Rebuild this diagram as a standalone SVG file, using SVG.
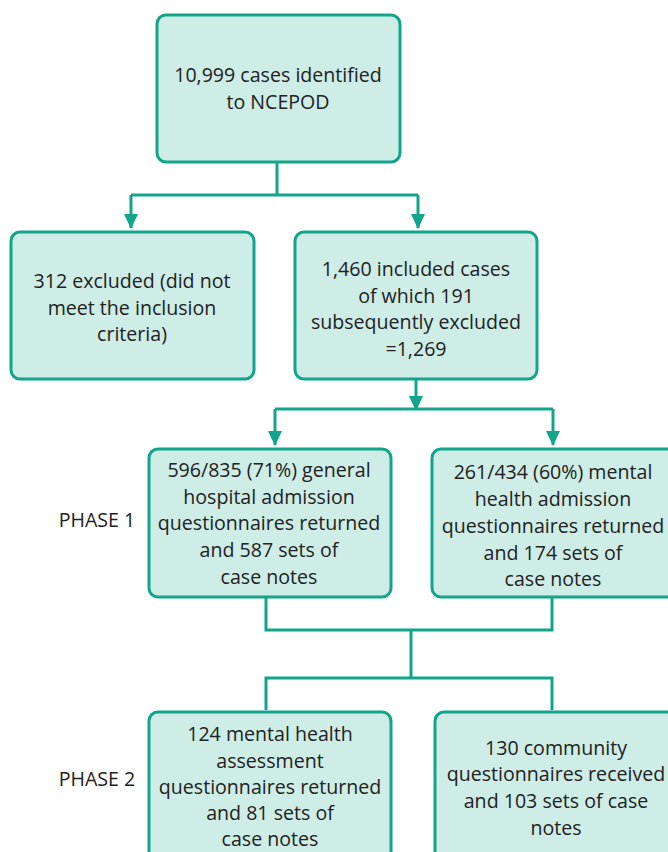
<svg xmlns="http://www.w3.org/2000/svg" width="668" height="852" viewBox="0 0 668 852">
<style>
.box{fill:#cdede6;stroke:#13a58b;stroke-width:3}
.ln{fill:none;stroke:#13a58b;stroke-width:3}
text{font-family:"Open Sans","Noto Sans",sans-serif;font-size:19.6px;fill:#222;text-anchor:middle}
</style>
<defs>
<marker id="a" markerUnits="userSpaceOnUse" markerWidth="16" markerHeight="16" refX="14" refY="8" orient="auto" viewBox="0 0 16 16">
<path d="M0,1 L15,8 L0,15 Z" fill="#13a58b"/>
</marker>
</defs>
<g id="connectors">
<path class="ln" d="M277,162 V195"/>
<path class="ln" d="M131,195 H418"/>
<path class="ln" d="M131,195 V228" marker-end="url(#a)"/>
<path class="ln" d="M418,195 V228" marker-end="url(#a)"/>
<path class="ln" d="M416,379 V410" marker-end="url(#a)"/>
<path class="ln" d="M275,409 H553"/>
<path class="ln" d="M275,409 V445" marker-end="url(#a)"/>
<path class="ln" d="M553,409 V445" marker-end="url(#a)"/>
<path class="ln" d="M266,597 V630 H552 V597"/>
<path class="ln" d="M411,630 V678"/>
<path class="ln" d="M266,710 V678 H552 V710"/>
</g>
<g id="n1"><rect class="box" x="157" y="15" width="243" height="147" rx="9"/>
<text x="278" y="82">10,999 cases identified</text><text x="278" y="109">to NCEPOD</text></g>
<g id="n2"><rect class="box" x="11" y="232" width="243" height="147" rx="9"/>
<text x="132" y="288">312 excluded (did not</text><text x="132" y="315">meet the inclusion</text><text x="132" y="341">criteria)</text></g>
<g id="n3"><rect class="box" x="295" y="232" width="242" height="147" rx="9"/>
<text x="416" y="276">1,460 included cases</text><text x="416" y="303">of which 191</text><text x="416" y="329">subsequently excluded</text><text x="416" y="356">=1,269</text></g>
<g id="phase1"><text x="97" y="527">PHASE 1</text></g>
<g id="n4"><rect class="box" x="149" y="449" width="242" height="148" rx="9"/>
<text x="269" y="477">596/835 (71%) general</text><text x="269" y="504">hospital admission</text><text x="269" y="530">questionnaires returned</text><text x="269" y="557">and 587 sets of</text><text x="269" y="584">case notes</text></g>
<g id="n5"><rect class="box" x="432" y="449" width="246" height="148" rx="9"/>
<text x="553" y="479">261/434 (60%) mental</text><text x="553" y="506">health admission</text><text x="553" y="533">questionnaires returned</text><text x="553" y="560">and 174 sets of</text><text x="553" y="586">case notes</text></g>
<g id="phase2"><text x="97" y="786">PHASE 2</text></g>
<g id="n6"><rect class="box" x="149" y="712" width="242" height="160" rx="9"/>
<text x="270" y="741">124 mental health</text><text x="270" y="768">assessment</text><text x="270" y="794">questionnaires returned</text><text x="270" y="820">and 81 sets of</text><text x="270" y="846">case notes</text></g>
<g id="n7"><rect class="box" x="435" y="712" width="243" height="160" rx="9"/>
<text x="556" y="755">130 community</text><text x="556" y="781">questionnaires received</text><text x="556" y="808">and 103 sets of case</text><text x="556" y="835">notes</text></g>
</svg>
